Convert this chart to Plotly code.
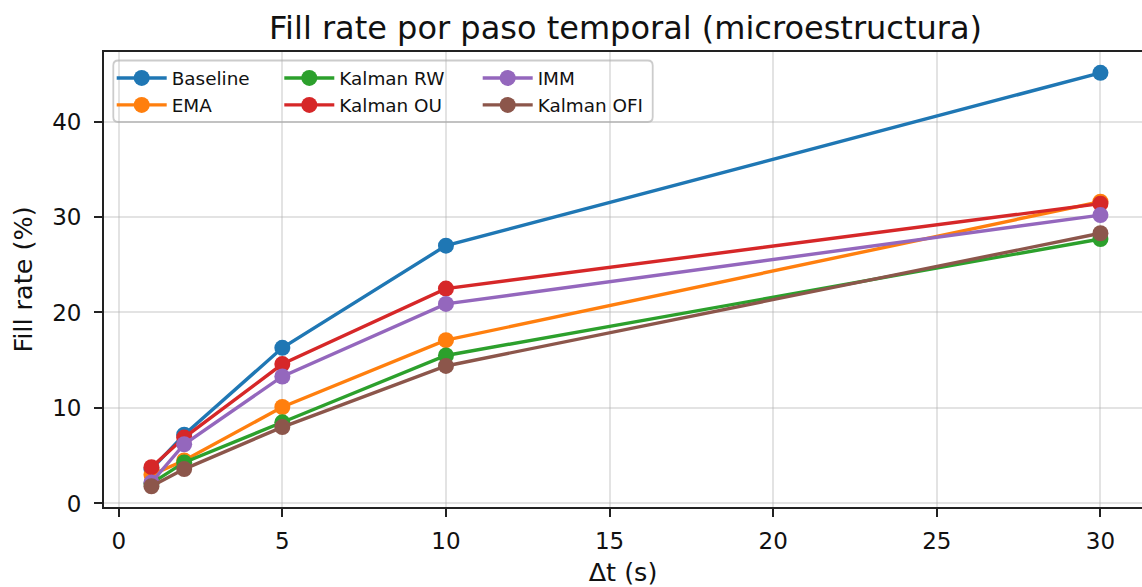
import plotly.graph_objects as go

# Time steps (seconds) and fill rate (%) per estimator
dt_seconds = [1, 2, 5, 10, 30]

series_names = ["Baseline", "EMA", "Kalman RW", "Kalman OU", "IMM", "Kalman OFI"]
baseline = [3.6, 7.2, 16.3, 27.0, 45.1]
ema = [3.0, 4.5, 10.1, 17.1, 31.6]
kalman_rw = [2.1, 4.3, 8.5, 15.5, 27.7]
kalman_ou = [3.8, 6.9, 14.6, 22.5, 31.4]
imm = [2.2, 6.2, 13.3, 20.9, 30.2]
kalman_ofi = [1.8, 3.6, 8.0, 14.4, 28.3]

series_values = [baseline, ema, kalman_rw, kalman_ou, imm, kalman_ofi]
colors = ["#1f77b4", "#ff7f0e", "#2ca02c", "#d62728", "#9467bd", "#8c564b"]
# two entries per legend column
legend_columns = ["legend", "legend", "legend2", "legend2", "legend3", "legend3"]

x_ticks = [0, 5, 10, 15, 20, 25, 30]
y_ticks = [0, 10, 20, 30, 40]

FONT = "DejaVu Sans"
TEXT = "#111111"

# plot-area geometry in pixels
W, H = 1142, 587
L, R, T, B = 104, 0, 52, 80
PW, PH = W - L - R, H - T - B


def px_x(px):
    return (px - L) / PW


def px_y(py):
    return (H - B - py) / PH


fig = go.Figure()
for name, vals, col, leg in zip(series_names, series_values, colors, legend_columns):
    fig.add_trace(go.Scatter(
        x=dt_seconds, y=vals, name=name, mode="lines+markers",
        line=dict(color=col, width=3.4),
        marker=dict(color=col, size=16, line=dict(color=col, width=0)),
        legend=leg,
    ))

axis_common = dict(
    showgrid=True, gridcolor="rgba(176,176,176,0.35)", gridwidth=1.8,
    zeroline=False, showline=True, linecolor="#222222", linewidth=1.8,
    ticks="outside", ticklen=8, tickwidth=1.8, tickcolor="#222222",
    tickfont=dict(family=FONT, size=23, color=TEXT),
)

legend_common = dict(
    orientation="v", xanchor="left", yanchor="top", y=px_y(59.5),
    bgcolor="rgba(0,0,0,0)", borderwidth=0, itemwidth=50,
    font=dict(family=FONT, size=18.4, color=TEXT),
)

# rounded frame behind the legend columns
x0, x1 = px_x(113.3), px_x(652.7)
y0, y1 = px_y(122.0), px_y(60.5)
rx, ry = 5 / PW, 5 / PH
frame_path = (
    f"M{x0 + rx},{y1} L{x1 - rx},{y1} Q{x1},{y1} {x1},{y1 - ry} "
    f"L{x1},{y0 + ry} Q{x1},{y0} {x1 - rx},{y0} "
    f"L{x0 + rx},{y0} Q{x0},{y0} {x0},{y0 + ry} "
    f"L{x0},{y1 - ry} Q{x0},{y1} {x0 + rx},{y1} Z"
)

fig.update_layout(
    width=W, height=H,
    margin=dict(l=L, r=R, t=T, b=B),
    plot_bgcolor="white", paper_bgcolor="white",
    font=dict(family=FONT, color=TEXT),
    title=dict(
        text="Fill rate por paso temporal (microestructura)",
        font=dict(family=FONT, size=32, color=TEXT),
        x=625.5 / W, xanchor="center", y=1 - 28 / H, yanchor="middle",
    ),
    xaxis=dict(
        range=[-0.45, 31.27], tickvals=x_ticks, mirror=True,
        title=dict(text="Δt (s)", font=dict(family=FONT, size=25.5, color=TEXT), standoff=14),
        ticklabelstandoff=4,
        **axis_common,
    ),
    yaxis=dict(
        range=[-0.37, 47.28], tickvals=y_ticks,
        title=dict(text="Fill rate (%)", font=dict(family=FONT, size=25.5, color=TEXT), standoff=12),
        ticklabelstandoff=8,
        **axis_common,
    ),
    legend=dict(x=px_x(111.7), **legend_common),
    legend2=dict(x=px_x(279.3), **legend_common),
    legend3=dict(x=px_x(477.7), **legend_common),
    shapes=[dict(
        type="path", xref="paper", yref="paper", path=frame_path,
        fillcolor="rgba(255,255,255,0.85)", line=dict(color="#cccccc", width=1.8),
        layer="between",
    )],
    showlegend=True,
)

fig.write_html("out.html")
